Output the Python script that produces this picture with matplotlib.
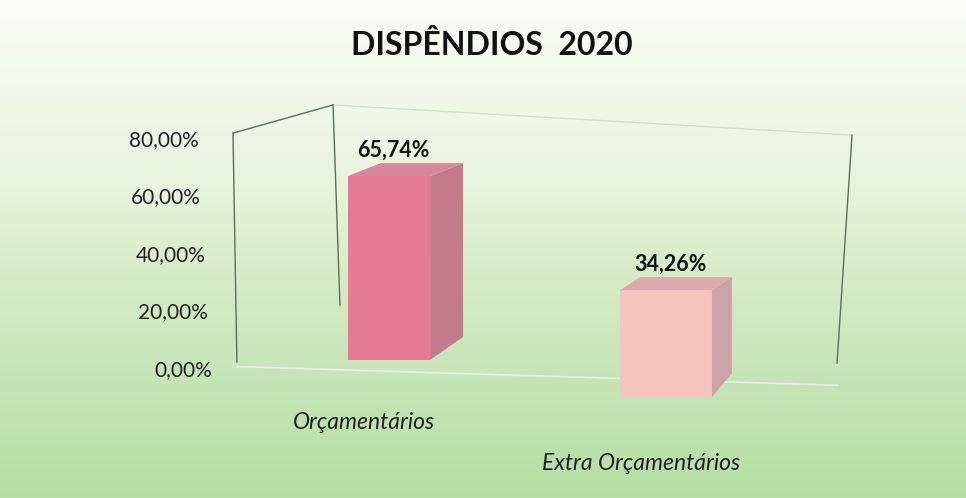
import matplotlib.pyplot as plt
import numpy as np
from matplotlib.patches import Polygon
from matplotlib.transforms import ScaledTranslation

categorias = ["Orçamentários", "Extra Orçamentários"]
valores = [65.74, 34.26]
rotulos = ["65,74%", "34,26%"]
ticks = [0, 20, 40, 60, 80]
tick_labels = ["0,00%", "20,00%", "40,00%", "60,00%", "80,00%"]

# fake perspective (layout only)
persp = [0.973, 1.086]
piso = [2.8, -10.1]
prof_x = [0.119, 0.072]
prof_topo = [4.5, 4.5]
prof_base = [8.0, 8.3]
desloc_ticks = [14, 10, 7, 2, 0]  # px, tick labels follow the tilted wall
frente = ["#e57a93", "#f5c4bc"]
lado = ["#c47a8b", "#c9a3a5"]
topo = ["#d4889a", "#d9acab"]

plt.rcParams['font.family'] = ['Lato', 'DejaVu Sans']

fig = plt.figure(figsize=(9.66, 4.98), dpi=100)

# background gradient
bg = fig.add_axes([0, 0, 1, 1], zorder=-1)
h = 200
t = np.linspace(0, 1, h)[:, None]
top_c = np.array([251, 252, 246]) / 255
mid_c = np.array([230, 243, 219]) / 255
bot_c = np.array([182, 222, 164]) / 255
grad = np.where(t < 0.4, top_c + (mid_c - top_c) * (t / 0.4),
                mid_c + (bot_c - mid_c) * ((t - 0.4) / 0.6) ** 0.8)
grad = np.repeat(grad[:, None, :], 10, axis=1)
bg.imshow(grad, aspect='auto', extent=[0, 1, 0, 1])
bg.axis('off')

ax = fig.add_axes([233 / 966, (498 - 368) / 498, (852 - 233) / 966, 230 / 498])
ax.set_facecolor('none')
ax.set_xlim(-0.563, 1.671)
ax.set_ylim(0, 80)

x = np.arange(len(valores))
alturas = [v * p for v, p in zip(valores, persp)]
larguras = [0.305 * p for p in persp]
bars = ax.bar(x, alturas, width=larguras, bottom=piso, color=frente, zorder=3, clip_on=False)

for i, b in enumerate(bars):
    xl = b.get_x()
    xr = xl + b.get_width()
    y0 = b.get_y()
    y1 = y0 + b.get_height()
    dx = prof_x[i]
    lado_poly = Polygon([(xr, y0), (xr + dx, y0 + prof_base[i]), (xr + dx, y1 + prof_topo[i]), (xr, y1)],
                        closed=True, facecolor=lado[i], edgecolor='none', zorder=3, clip_on=False)
    topo_poly = Polygon([(xl, y1), (xl + dx, y1 + prof_topo[i]), (xr + dx, y1 + prof_topo[i]), (xr, y1)],
                        closed=True, facecolor=topo[i], edgecolor='none', zorder=3, clip_on=False)
    ax.add_patch(lado_poly)
    ax.add_patch(topo_poly)
    ax.text(x[i] + 0.015, y1 + prof_topo[i] + 1.0, rotulos[i], ha='center', va='bottom',
            fontsize=15.5, fontweight='bold', color='#111111', clip_on=False)
    ax.text(x[i] - 0.09, piso[i] * 1.1 - 22, categorias[i], ha='center', va='center',
            fontsize=16.5, style='italic', color='#222222', clip_on=False)

# walls of the 3d frame
linha = dict(color='#5d6e5c', lw=1.0, clip_on=False, zorder=2)
ax.plot([-0.563, -0.549], [81.7, 2.1], **linha)
ax.plot([-0.563, -0.202], [81.7, 91.5], **linha)
ax.plot([-0.202, -0.177], [91.5, 21.9], **linha)
ax.plot([-0.202, 1.671], [91.5, 81.0], color='#d2ddcc', lw=1.0, clip_on=False, zorder=1)
ax.plot([1.671, 1.617], [81.0, 1.7], **linha)
ax.plot([-0.549, 1.617], [0.5, -6], color='#e6f2de', lw=1.2, clip_on=False, zorder=1)

ax.set_yticks(ticks)
ax.set_yticklabels(tick_labels, fontsize=15, color='#222222')
ax.tick_params(axis='y', length=0, pad=25)
for lab, d in zip(ax.get_yticklabels(), desloc_ticks):
    lab.set_transform(lab.get_transform() + ScaledTranslation(d / 100, 0, fig.dpi_scale_trans))
ax.set_xticks([])
for s in ax.spines.values():
    s.set_visible(False)

fig.text(492 / 966, 1 - 45 / 498, "DISPÊNDIOS  2020", ha='center', va='center',
         fontsize=23, fontweight='bold', color='#111111')

fig.savefig("out.png", dpi=100)
